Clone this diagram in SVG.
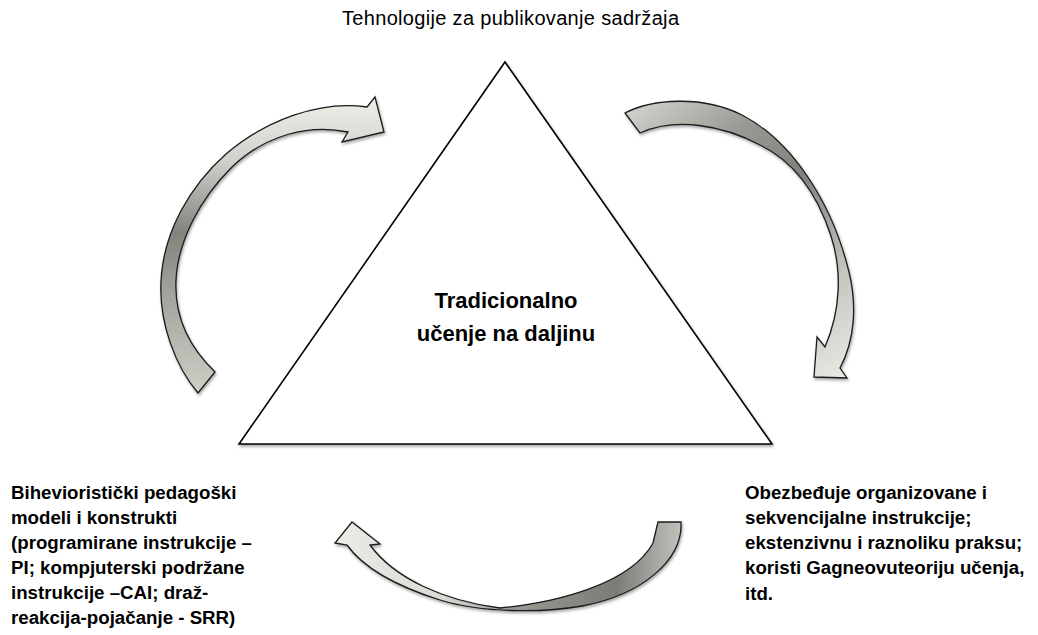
<svg xmlns="http://www.w3.org/2000/svg" width="1038" height="635" viewBox="0 0 1038 635">
  <defs>
    <filter id="shadow" x="-10%" y="-10%" width="120%" height="120%">
      <feGaussianBlur in="SourceAlpha" stdDeviation="1.6"/>
      <feOffset dx="1" dy="2" result="b"/>
      <feComponentTransfer><feFuncA type="linear" slope="0.35"/></feComponentTransfer>
      <feMerge><feMergeNode/><feMergeNode in="SourceGraphic"/></feMerge>
    </filter>
    <linearGradient id="gLeft" gradientUnits="userSpaceOnUse" x1="0" y1="100" x2="0" y2="395">
      <stop offset="0" stop-color="#ededE8"/>
      <stop offset="0.2" stop-color="#d2d2cc"/>
      <stop offset="0.45" stop-color="#83837e"/>
      <stop offset="0.65" stop-color="#a2a29c"/>
      <stop offset="1" stop-color="#cfcfc8"/>
    </linearGradient>
    <linearGradient id="gRight" gradientUnits="userSpaceOnUse" x1="625" y1="110" x2="850" y2="378">
      <stop offset="0" stop-color="#d3d3cd"/>
      <stop offset="0.25" stop-color="#9a9a95"/>
      <stop offset="0.47" stop-color="#80807b"/>
      <stop offset="0.75" stop-color="#c4c4be"/>
      <stop offset="1" stop-color="#ececE7"/>
    </linearGradient>
    <linearGradient id="gBottom" gradientUnits="userSpaceOnUse" x1="340" y1="0" x2="685" y2="0">
      <stop offset="0" stop-color="#ebebe6"/>
      <stop offset="0.3" stop-color="#dadad4"/>
      <stop offset="0.5" stop-color="#9a9a95"/>
      <stop offset="0.8" stop-color="#7c7c77"/>
      <stop offset="1" stop-color="#c6c6c0"/>
    </linearGradient>
  </defs>
  <style>
    .arrow { stroke: #1a1a1a; stroke-width: 1.3; stroke-linejoin: miter; filter: url(#shadow); }
    .tri { fill: #ffffff; stroke: #000000; stroke-width: 1.6; filter: url(#shadow); }
    .lbl { font-family: "Liberation Sans", Arial, sans-serif; fill: #000000; }
    .b { font-weight: bold; font-size: 18.7px; }
    .top { font-size: 20px; }
    .center { font-weight: bold; font-size: 22px; text-anchor: middle; }
  </style>
  <rect width="1038" height="635" fill="#ffffff"/>

  <g id="triangle">
    <polygon class="tri" points="505,62 772,444 239,444"/>
    <text class="lbl center" x="506" y="308">Tradicionalno</text>
    <text class="lbl center" x="506" y="341">učenje na daljinu</text>
  </g>

  <g id="node-top">
    <text class="lbl top" x="342" y="25" textLength="337" lengthAdjust="spacing">Tehnologije za publikovanje  sadržaja</text>
  </g>

  <g id="node-left">
    <text class="lbl b" x="11" y="499">Bihevioristički pedagoški</text>
    <text class="lbl b" x="11" y="524">modeli i konstrukti</text>
    <text class="lbl b" x="11" y="549">(programirane instrukcije –</text>
    <text class="lbl b" x="11" y="574">PI; kompjuterski podržane</text>
    <text class="lbl b" x="11" y="599">instrukcije –CAI; draž-</text>
    <text class="lbl b" x="11" y="624">reakcija-pojačanje - SRR)</text>
  </g>

  <g id="node-right">
    <text class="lbl b" x="745" y="499">Obezbeđuje organizovane i</text>
    <text class="lbl b" x="745" y="524">sekvencijalne instrukcije;</text>
    <text class="lbl b" x="745" y="549">ekstenzivnu i raznoliku praksu;</text>
    <text class="lbl b" x="745" y="574">koristi Gagneovuteoriju učenja,</text>
    <text class="lbl b" x="745" y="600">itd.</text>
  </g>

  <g id="connectors">
    <path class="arrow" fill="url(#gLeft)" d="M198,393 C175,366 159,322 161,282 C163,232 190,186 226,154 C266,120 320,100 367,107 L375,97 L384,132 L342,142 L348,132 C310,124 266,134 231,168 C201,198 178,240 176,280 C174,320 192,350 215,372 Z"/>
    <path class="arrow" fill="url(#gRight)" d="M625,113 C652,99 702,95 742,115 C792,141 832,202 849,272 C857,305 855,340 840,368 L847,378 L814,377 L817,337 L825,347 C841,310 842,270 831,236 C816,190 791,160 760,145 C722,125 676,117 640,133 Z"/>
    <path class="arrow" fill="url(#gBottom)" d="M658,522 L681,522 C683,560 642,595 582,606 C542,613 482,613 440,600 C402,588 365,570 347,545 L335,543 L352,522 L380,544 L370,545 C394,578 444,601 500,608 C562,602 632,582 653,543 Z"/>
  </g>
</svg>
